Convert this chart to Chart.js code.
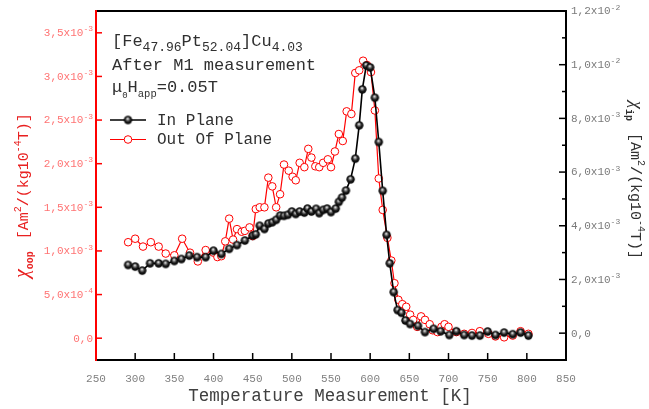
<!DOCTYPE html>
<html>
<head>
<meta charset="utf-8">
<script src="https://cdn.jsdelivr.net/npm/chart.js@4.4.1/dist/chart.umd.min.js"></script>
<style>
  html, body { margin: 0; padding: 0; background: #fff; }
  canvas { display: block; }
</style>
</head>
<body>
<canvas id="chart" width="649" height="409"></canvas>
<script>
// ─── Data ───────────────────────────────────────────────────

// In plane susceptibility, right axis, values in 10^-3 Am²/(kg10^-4T)
const TEMP_IP = [291, 300, 309, 319, 330, 339, 350, 359, 369, 379,
  390, 400, 410, 420, 430, 440, 450, 454, 459, 465,
  470, 475, 480, 485, 490, 495, 500, 505, 510, 516,
  520, 525, 531, 535, 540, 545, 550, 556, 560, 564,
  569, 575, 581, 586, 590, 595, 600, 606, 611, 616,
  621, 625, 630, 635, 640, 645, 651, 661, 670, 681,
  690, 701, 710, 720, 730, 740, 750, 760, 771, 782,
  792, 802];
const CHI_IP = [2.54, 2.48, 2.33, 2.60, 2.60, 2.58, 2.69, 2.76, 2.89, 2.83,
  2.83, 3.07, 2.95, 3.14, 3.28, 3.45, 3.63, 3.68, 4.00, 3.88,
  4.08, 4.13, 4.22, 4.38, 4.37, 4.41, 4.53, 4.44, 4.53, 4.49,
  4.64, 4.53, 4.63, 4.47, 4.59, 4.64, 4.51, 4.64, 4.89, 5.05,
  5.31, 5.73, 6.50, 7.74, 9.08, 9.97, 9.90, 8.77, 7.12, 5.30,
  3.66, 2.60, 1.53, 0.86, 0.76, 0.47, 0.34, 0.27, 0.04, 0.16,
  0.07, -0.07, 0.07, -0.07, -0.09, -0.09, 0.06, -0.07, 0.02, -0.04,
  0.02, -0.09];

// Out of plane susceptibility, left axis, values in 10^-3 Am²/(kg10^-4T)
const TEMP_OOP = [291, 300, 310, 320, 330, 339, 350, 360, 370, 380,
  390, 400, 405, 410, 415, 420, 425, 430, 436, 440,
  446, 450, 454, 459, 465, 470, 475, 480, 485, 490,
  496, 501, 505, 510, 516, 521, 525, 530, 535, 540,
  546, 550, 555, 560, 565, 570, 576, 581, 586, 591,
  596, 601, 606, 611, 616, 622, 627, 631, 636, 641,
  646, 651, 655, 660, 665, 670, 676, 680, 686, 691,
  695, 700, 710, 720, 730, 740, 751, 760, 771, 782,
  792, 802];
const CHI_OOP = [1.10, 1.14, 1.05, 1.10, 1.05, 0.97, 0.95, 1.14, 0.98, 0.88,
  1.01, 0.98, 0.93, 0.94, 1.11, 1.37, 1.13, 1.25, 1.22, 1.23,
  1.27, 1.17, 1.48, 1.50, 1.50, 1.84, 1.74, 1.50, 1.65, 1.99,
  1.92, 1.85, 1.81, 2.01, 1.96, 2.17, 2.07, 1.97, 1.96, 2.01,
  2.05, 1.96, 2.14, 2.34, 2.26, 2.60, 2.57, 3.04, 3.07, 3.18,
  3.13, 3.05, 2.61, 1.83, 1.47, 1.15, 0.89, 0.63, 0.44, 0.39,
  0.36, 0.27, 0.21, 0.13, 0.25, 0.21, 0.16, 0.09, 0.07, 0.13,
  0.16, 0.13, 0.07, 0.05, 0.06, 0.08, 0.05, 0.02, 0.01, 0.03,
  0.08, 0.05];

// Tick values
const X_TICKS = [250, 300, 350, 400, 450, 500, 550, 600, 650, 700, 750, 800, 850];
const LEFT_TICKS = [0, 0.5, 1.0, 1.5, 2.0, 2.5, 3.0, 3.5];        // x10^-3
const RIGHT_TICKS = [0, 2, 4, 6, 8, 10, 12];                       // x10^-3
const RIGHT_MINOR = [1, 3, 5, 7, 9, 11];                           // x10^-3

// ─── Styling helpers ────────────────────────────────────────

const MONO = '"Liberation Mono", "DejaVu Sans Mono", monospace';
const SERIF = '"Liberation Serif", "DejaVu Serif", serif';
const RED = '#ff0000';
const TEXT = '#303030';

function makeBall(r) {
  const c = document.createElement('canvas');
  const s = Math.ceil(r * 2) + 2;
  c.width = c.height = s;
  const g = c.getContext('2d');
  const cx = s / 2, cy = s / 2;
  const grad = g.createRadialGradient(cx - r * 0.1, cy - r * 0.35, 0.2, cx, cy, r);
  grad.addColorStop(0, '#ffffff');
  grad.addColorStop(0.28, '#808080');
  grad.addColorStop(0.6, '#1c1c1c');
  grad.addColorStop(1, '#000000');
  g.fillStyle = grad;
  g.beginPath();
  g.arc(cx, cy, r, 0, Math.PI * 2);
  g.fill();
  return c;
}
const BALL = makeBall(4.2);

// "3,5x10" + superscript "-3"
function sciParts(v) {
  if (Math.abs(v) < 1e-12) return ['0,0', ''];
  const e = Math.floor(Math.log10(Math.abs(v)) + 1e-9);
  const m = (v / Math.pow(10, e)).toFixed(1).replace('.', ',');
  return [m + 'x10', String(e)];
}

// Draw a run of text pieces along the current baseline
function drawRich(ctx, x, y, parts) {
  for (const p of parts) {
    ctx.font = p.font;
    ctx.fillStyle = p.color;
    ctx.fillText(p.t, x, y + (p.dy || 0));
    x += ctx.measureText(p.t).width + (p.gap || 0);
  }
  return x;
}

function tickLabel(ctx, v, x, y, align, color) {
  const [main, sup] = sciParts(v);
  ctx.font = '11px ' + MONO;
  const w1 = ctx.measureText(main).width;
  ctx.font = '8px ' + MONO;
  const w2 = sup ? ctx.measureText(sup).width : 0;
  const x0 = align === 'right' ? x - w1 - w2 : x;
  ctx.textBaseline = 'middle';
  ctx.textAlign = 'left';
  drawRich(ctx, x0, y, [
    { t: main, font: '11px ' + MONO, color },
    { t: sup, font: '8px ' + MONO, color, dy: -4 },
  ]);
}

// ─── Axes, labels, annotation, legend ───────────────────────

const decorations = {
  id: 'decorations',
  afterDatasetsDraw(chart) {
    const { ctx, chartArea: a, scales } = chart;
    const xs = scales.x, yl = scales.yL, yr = scales.yR;
    ctx.save();

    // frame
    ctx.lineWidth = 2;
    ctx.strokeStyle = '#000';
    ctx.beginPath();
    ctx.moveTo(a.left, a.top); ctx.lineTo(a.right, a.top);
    ctx.lineTo(a.right, a.bottom); ctx.lineTo(a.left, a.bottom);
    ctx.stroke();
    ctx.strokeStyle = RED;
    ctx.beginPath();
    ctx.moveTo(a.left, a.top - 1); ctx.lineTo(a.left, a.bottom + 1);
    ctx.stroke();

    // bottom ticks + labels
    ctx.lineWidth = 1.5;
    ctx.strokeStyle = '#000';
    ctx.fillStyle = '#808080';
    ctx.font = '11px ' + MONO;
    ctx.textAlign = 'center';
    ctx.textBaseline = 'middle';
    X_TICKS.forEach(v => {
      const px = xs.getPixelForValue(v);
      if (v > 250 && v < 850) {
        ctx.beginPath(); ctx.moveTo(px, a.bottom); ctx.lineTo(px, a.bottom - 7); ctx.stroke();
      }
      ctx.fillText(String(v), px, 379);
    });

    // left ticks + labels
    ctx.strokeStyle = RED;
    LEFT_TICKS.forEach(v => {
      const py = yl.getPixelForValue(v * 1e-3);
      ctx.beginPath(); ctx.moveTo(a.left, py); ctx.lineTo(a.left + 6, py); ctx.stroke();
      tickLabel(ctx, v * 1e-3, a.left - 3, py + 0.5, 'right', '#ff7373');
    });

    // right ticks + labels
    ctx.strokeStyle = '#000';
    RIGHT_TICKS.forEach(v => {
      const py = yr.getPixelForValue(v * 1e-3);
      ctx.beginPath(); ctx.moveTo(a.right, py); ctx.lineTo(a.right - 7, py); ctx.stroke();
      tickLabel(ctx, v * 1e-3, a.right + 5, py + 0.5, 'left', '#7a7a7a');
    });
    RIGHT_MINOR.forEach(v => {
      const py = yr.getPixelForValue(v * 1e-3);
      ctx.beginPath(); ctx.moveTo(a.right, py); ctx.lineTo(a.right - 4, py); ctx.stroke();
    });

    // x title
    ctx.fillStyle = '#404040';
    ctx.font = '17.5px ' + MONO;
    ctx.textAlign = 'center';
    ctx.textBaseline = 'alphabetic';
    ctx.fillText('Temperature Measurement [K]', 330, 401);

    // left title (reads bottom to top)
    ctx.textAlign = 'left';
    ctx.save();
    ctx.translate(28, 278);
    ctx.rotate(-Math.PI / 2);
    drawRich(ctx, 0, 0, [
      { t: '\u03C7', font: 'italic 20px ' + SERIF, color: '#e82020' },
      { t: 'oop', font: 'bold 10px ' + MONO, color: '#e82020', dy: 5, gap: 12 },
      { t: '[Am', font: '15px ' + MONO, color: '#e82020' },
      { t: '2', font: '10px ' + MONO, color: '#e82020', dy: -7 },
      { t: '/(kg10', font: '15px ' + MONO, color: '#e82020' },
      { t: '-4', font: '10px ' + MONO, color: '#e82020', dy: -7 },
      { t: 'T)]', font: '15px ' + MONO, color: '#e82020' },
    ]);
    ctx.restore();

    // right title (reads top to bottom)
    ctx.save();
    ctx.translate(631, 101);
    ctx.rotate(Math.PI / 2);
    drawRich(ctx, 0, 0, [
      { t: '\u03C7', font: 'italic 18px ' + SERIF, color: TEXT },
      { t: 'ip', font: 'bold 10px ' + MONO, color: TEXT, dy: 5, gap: 12 },
      { t: '[Am', font: '15px ' + MONO, color: TEXT },
      { t: '2', font: '10px ' + MONO, color: TEXT, dy: -7 },
      { t: '/(kg10', font: '15px ' + MONO, color: TEXT },
      { t: '-4', font: '10px ' + MONO, color: TEXT, dy: -7 },
      { t: 'T)]', font: '15px ' + MONO, color: TEXT },
    ]);
    ctx.restore();

    // annotation
    const big = '17px ' + MONO, sub = '13px ' + MONO;
    drawRich(ctx, 112, 46, [
      { t: '[Fe', font: big, color: TEXT },
      { t: '47.96', font: sub, color: TEXT, dy: 5 },
      { t: 'Pt', font: big, color: TEXT },
      { t: '52.04', font: sub, color: TEXT, dy: 5 },
      { t: ']Cu', font: big, color: TEXT },
      { t: '4.03', font: sub, color: TEXT, dy: 5 },
    ]);
    drawRich(ctx, 112, 70, [{ t: 'After M1 measurement', font: big, color: TEXT }]);
    drawRich(ctx, 112, 92, [
      { t: '\u03BC', font: big, color: TEXT },
      { t: '0', font: '9px ' + MONO, color: TEXT, dy: 6 },
      { t: 'H', font: big, color: TEXT },
      { t: 'app', font: '10.5px ' + MONO, color: TEXT, dy: 5 },
      { t: '=0.05T', font: big, color: TEXT },
    ]);

    // legend
    ctx.lineWidth = 1.6;
    ctx.strokeStyle = '#000';
    ctx.beginPath(); ctx.moveTo(110, 120); ctx.lineTo(146, 120); ctx.stroke();
    ctx.drawImage(BALL, 128 - BALL.width / 2, 120 - BALL.height / 2);
    ctx.lineWidth = 1.2;
    ctx.strokeStyle = RED;
    ctx.beginPath(); ctx.moveTo(110, 139.5); ctx.lineTo(146, 139.5); ctx.stroke();
    ctx.fillStyle = '#fff';
    ctx.lineWidth = 1;
    ctx.beginPath(); ctx.arc(128, 139.5, 3.8, 0, Math.PI * 2); ctx.fill(); ctx.stroke();
    ctx.textBaseline = 'middle';
    drawRich(ctx, 157, 121, [{ t: 'In Plane', font: '16px ' + MONO, color: TEXT }]);
    drawRich(ctx, 157, 140, [{ t: 'Out Of Plane', font: '16px ' + MONO, color: TEXT }]);

    ctx.restore();
  },
};

// ─── Chart ──────────────────────────────────────────────────

new Chart(document.getElementById('chart'), {
  type: 'line',
  data: {
    datasets: [
      {
        label: 'In Plane',
        data: TEMP_IP.map((t, i) => ({ x: t, y: CHI_IP[i] * 1e-3 })),
        yAxisID: 'yR',
        borderColor: '#000',
        borderWidth: 1.6,
        pointStyle: BALL,
        pointRadius: 4,
        order: 0,
      },
      {
        label: 'Out Of Plane',
        data: TEMP_OOP.map((t, i) => ({ x: t, y: CHI_OOP[i] * 1e-3 })),
        yAxisID: 'yL',
        borderColor: RED,
        borderWidth: 1.2,
        pointStyle: 'circle',
        pointRadius: 3.8,
        pointBackgroundColor: '#fff',
        pointBorderColor: RED,
        pointBorderWidth: 1,
        order: 1,
      },
    ],
  },
  options: {
    responsive: false,
    animation: false,
    events: [],
    layout: { padding: { left: 96, right: 83, top: 11, bottom: 49 } },
    plugins: {
      legend: { display: false },
      tooltip: { enabled: false },
    },
    scales: {
      x: { type: 'linear', min: 250, max: 850, display: false },
      yL: { type: 'linear', position: 'left', min: -0.25e-3, max: 3.75e-3, display: false },
      yR: { type: 'linear', position: 'right', min: -1e-3, max: 12e-3, display: false },
    },
  },
  plugins: [decorations],
});
</script>
</body>
</html>
